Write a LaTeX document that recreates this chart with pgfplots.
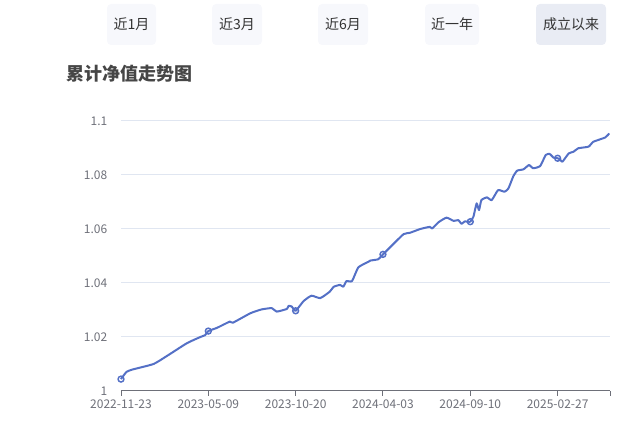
\documentclass[border=0pt]{standalone}
\usepackage{fontspec}
\setmainfont{Noto Sans CJK SC}
\usepackage{pgfplots}
\pgfplotsset{compat=1.18}
\usepackage{pgfplotstable}

\definecolor{ecblue}{HTML}{5470C6}
\definecolor{axisgray}{HTML}{6E7079}
\definecolor{gridgray}{HTML}{E0E6F1}
\definecolor{btnbg}{HTML}{F7F8FC}
\definecolor{btnsel}{HTML}{E9ECF4}
\definecolor{txt}{HTML}{333333}
\definecolor{ttl}{HTML}{464646}

% x = trading-day index, 110 per labelled tick
\pgfplotstableread{
x    nav
0    1.0044
7    1.0071
15   1.0080
41   1.0100
58   1.0130
83   1.0177
100  1.0200
106  1.0207
110  1.0222
121  1.0234
137  1.0257
141  1.0253
163  1.0288
177  1.0302
190  1.0307
196  1.0294
209  1.0304
211  1.0315
215  1.0313
220  1.0297
230  1.0333
240  1.0353
251  1.0344
263  1.0368
268  1.0386
276  1.0393
280  1.0386
284  1.0407
291  1.0407
299  1.0458
312  1.0479
314  1.0483
324  1.0488
330  1.0506
343  1.0544
356  1.0581
364  1.0586
377  1.0600
389  1.0608
392  1.0602
400  1.0625
410  1.0642
419  1.0630
425  1.0633
429  1.0619
433  1.0628
440  1.0627
444  1.0646
448  1.0695
451  1.0670
454  1.0707
461  1.0717
467  1.0707
475  1.0744
483  1.0738
488  1.0750
494  1.0794
499  1.0816
507  1.0821
514  1.0837
519  1.0825
528  1.0833
535  1.0874
540  1.0878
545  1.0864
550  1.0862
553  1.0858
556  1.0849
564  1.0880
570  1.0886
576  1.0899
589  1.0905
595  1.0923
610  1.0939
615  1.0954
}\navdata

\pgfplotstableread{
x    nav
0    1.0044
110  1.0222
220  1.0297
330  1.0506
440  1.0627
550  1.0862
}\navmarks

\begin{document}
\begin{tikzpicture}
\path[use as bounding box] (0,0) rectangle (471pt,318pt);

\begin{scope}[x=0.75pt, y=-0.75pt, shift={(0pt,318pt)}]
  \fill[btnbg, rounded corners=3pt] (107,4) rectangle (156,45);
  \fill[btnbg, rounded corners=3pt] (212,4) rectangle (262,45);
  \fill[btnbg, rounded corners=3pt] (318,4) rectangle (368,45);
  \fill[btnbg, rounded corners=3pt] (425,4) rectangle (479,45);
  \fill[btnsel, rounded corners=3pt] (536,4) rectangle (606,45);
  \node[txt, font=\fontsize{10.5pt}{12pt}\selectfont] at (131.5,24.5) {近1月};
  \node[txt, font=\fontsize{10.5pt}{12pt}\selectfont] at (237,24.5) {近3月};
  \node[txt, font=\fontsize{10.5pt}{12pt}\selectfont] at (343,24.5) {近6月};
  \node[txt, font=\fontsize{10.5pt}{12pt}\selectfont] at (452,24.5) {近一年};
  \node[txt, font=\fontsize{10.5pt}{12pt}\selectfont] at (571,24.5) {成立以来};
  \node[ttl, anchor=west, inner sep=0pt, font=\fontsize{13.5pt}{15pt}\selectfont\bfseries] at (66,74) {累计净值走势图};
\end{scope}

\begin{axis}[
  at={(90.75pt,24.75pt)}, anchor=south west,
  scale only axis, width=366.75pt, height=202.5pt,
  xmin=0, xmax=616, ymin=1, ymax=1.1,
  axis x line*=bottom, axis y line*=left,
  x axis line style={axisgray, line width=0.75pt},
  y axis line style={draw=none},
  xtick={0,110,220,330,440,550,616},
  xticklabels={2022-11-23,2023-05-09,2023-10-20,2024-04-03,2024-09-10,2025-02-27,},
  ytick={1,1.02,1.04,1.06,1.08,1.1},
  yticklabels={1,1.02,1.04,1.06,1.08,1.1},
  ymajorgrids, grid style={gridgray, line width=0.75pt},
  tick align=outside, major tick length=3.75pt,
  xtick style={axisgray, line width=0.75pt},
  ytick style={draw=none},
  ticklabel style={axisgray, font=\fontsize{9pt}{10pt}\selectfont},
  yticklabel style={anchor=east, xshift=-3pt},
  xticklabel style={anchor=north, yshift=1pt},
  /pgf/number format/assume math mode=true,
  clip=false,
]
  \addplot[ecblue, line width=1.5pt, line join=round, no marks, smooth, tension=0.3] table[x=x, y=nav] {\navdata};
  \addplot[only marks, mark=o, mark size=2.2pt, mark options={draw=ecblue, fill=white, line width=1.1pt}] table[x=x, y=nav] {\navmarks};
\end{axis}
\end{tikzpicture}
\end{document}
